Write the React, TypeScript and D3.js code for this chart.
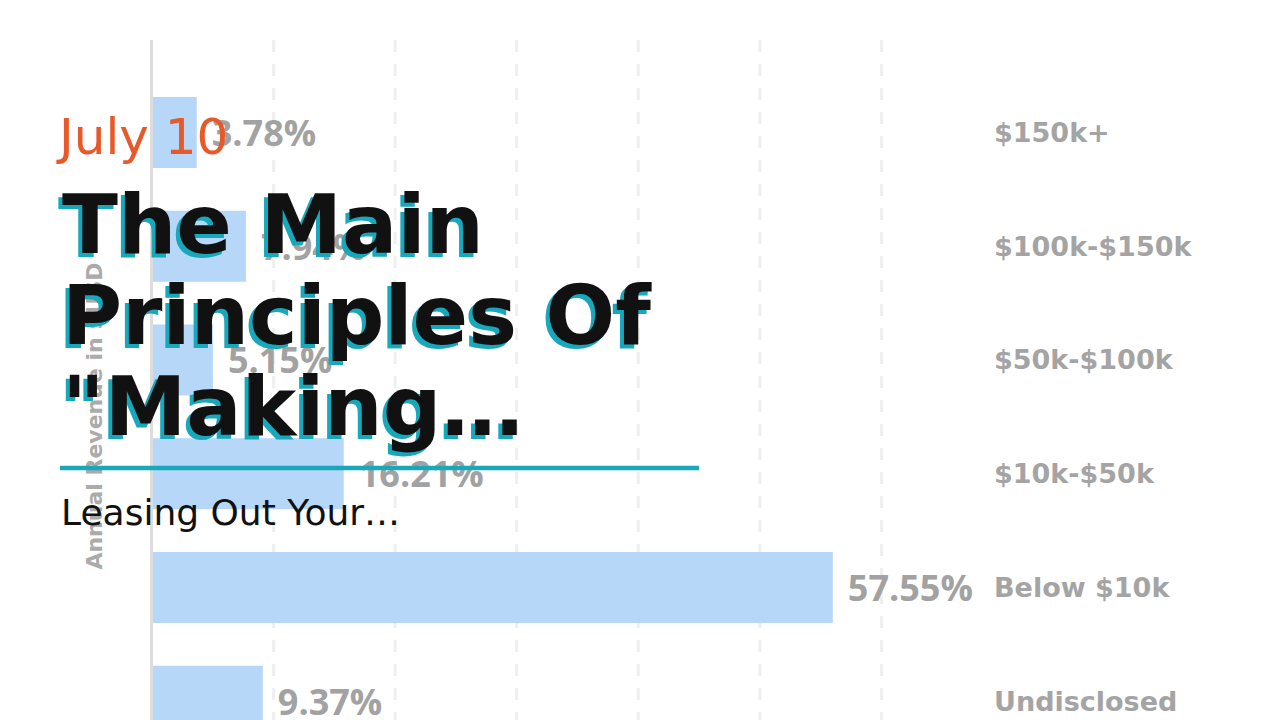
import { useEffect, useRef } from "react";
import * as d3 from "d3";

const categories = ["$150k+", "$100k-$150k", "$50k-$100k", "$10k-$50k", "Below $10k", "Undisclosed"];
const shares = [3.78, 7.94, 5.15, 16.21, 57.55, 9.37];
const axisTitle = "Annual Revenue in $USD";

const dateLabel = "July 10";
const titleLines = ["The Main", "Principles Of", "\"Making…"];
const subtitle = "Leasing Out Your…";

const App = () => {
  const svgRef = useRef<SVGSVGElement | null>(null);

  useEffect(() => {
    if (!svgRef.current) return;
    const svg = d3.select(svgRef.current);
    svg.selectAll("*").remove();

    const rows = categories.map((c, i) => ({ cat: c, value: shares[i] }));
    const xMax = d3.max(shares)! * 1.25;

    const x = d3.scaleLinear().domain([0, xMax]).range([152, 1003]);
    const y = d3
      .scaleBand<string>()
      .domain(categories)
      .range([75.6, 758.1])
      .paddingInner(0.376)
      .paddingOuter(0.188);

    // dashed grid, 7 equal steps, last one not drawn
    const grid = d3.range(1, 7).map(i => (i * xMax) / 7);
    svg
      .append("g")
      .selectAll("line")
      .data(grid)
      .enter()
      .append("line")
      .attr("x1", d => x(d))
      .attr("x2", d => x(d))
      .attr("y1", 40)
      .attr("y2", 720)
      .attr("stroke", "#efefef")
      .attr("stroke-width", 3)
      .attr("stroke-dasharray", "12 12");

    svg
      .append("g")
      .selectAll("rect")
      .data(rows)
      .enter()
      .append("rect")
      .attr("x", x(0))
      .attr("y", d => y(d.cat)!)
      .attr("width", d => x(d.value) - x(0))
      .attr("height", y.bandwidth())
      .attr("fill", "#b7d7f8");

    svg
      .append("line")
      .attr("x1", x(0) - 0.5)
      .attr("x2", x(0) - 0.5)
      .attr("y1", 40)
      .attr("y2", 720)
      .attr("stroke", "#dddddd")
      .attr("stroke-width", 3);

    // value labels
    svg
      .append("g")
      .selectAll("text")
      .data(rows)
      .enter()
      .append("text")
      .attr("x", d => x(d.value) + 15)
      .attr("y", d => y(d.cat)! + y.bandwidth() / 2)
      .attr("dominant-baseline", "central")
      .attr("font-family", "'Open Sans', sans-serif")
      .attr("font-weight", "bold")
      .attr("font-size", 36)
      .attr("fill", "#a2a2a2")
      .text(d => `${d.value.toFixed(2)}%`);

    // category labels on the right
    svg
      .append("g")
      .selectAll("text")
      .data(rows)
      .enter()
      .append("text")
      .attr("x", 994)
      .attr("y", d => y(d.cat)! + y.bandwidth() / 2)
      .attr("dominant-baseline", "central")
      .attr("font-family", "'DejaVu Sans', sans-serif")
      .attr("font-weight", "bold")
      .attr("font-size", 27)
      .attr("fill", "#a4a4a4")
      .text(d => d.cat);

    svg
      .append("text")
      .attr("transform", "translate(94,416) rotate(-90)")
      .attr("text-anchor", "middle")
      .attr("dominant-baseline", "central")
      .attr("font-family", "'DejaVu Sans', sans-serif")
      .attr("font-weight", "bold")
      .attr("font-size", 22)
      .attr("fill", "#ababab")
      .text(axisTitle);

    // post card overlay
    const card = svg.append("g").attr("font-family", "'DejaVu Sans', sans-serif");
    card
      .append("text")
      .attr("x", 59)
      .attr("y", 154)
      .attr("font-size", 50)
      .attr("fill", "#e8592a")
      .text(dateLabel);

    const lineY = (i: number) => 253 + i * 91;
    card
      .append("g")
      .selectAll("text")
      .data(titleLines)
      .enter()
      .append("text")
      .attr("x", 58)
      .attr("y", (_d, i) => lineY(i) + 4)
      .attr("font-size", 82)
      .attr("font-weight", "bold")
      .attr("fill", "#17a8bc")
      .text(d => d);
    card
      .append("g")
      .selectAll("text")
      .data(titleLines)
      .enter()
      .append("text")
      .attr("x", 62)
      .attr("y", (_d, i) => lineY(i))
      .attr("font-size", 82)
      .attr("font-weight", "bold")
      .attr("fill", "#111111")
      .text(d => d);

    card
      .append("line")
      .attr("x1", 60)
      .attr("x2", 699)
      .attr("y1", 468)
      .attr("y2", 468)
      .attr("stroke", "#17a8bc")
      .attr("stroke-width", 4.5);

    card
      .append("text")
      .attr("x", 61)
      .attr("y", 525)
      .attr("font-size", 36)
      .attr("fill", "#111111")
      .text(subtitle);
  }, []);

  return (
    <div style={{ position: "absolute", left: 0, top: 0, width: 1280, height: 720, overflow: "hidden", background: "#fff" }}>
      <svg ref={svgRef} width={1280} height={720} style={{ display: "block" }} />
    </div>
  );
};

export default App;
